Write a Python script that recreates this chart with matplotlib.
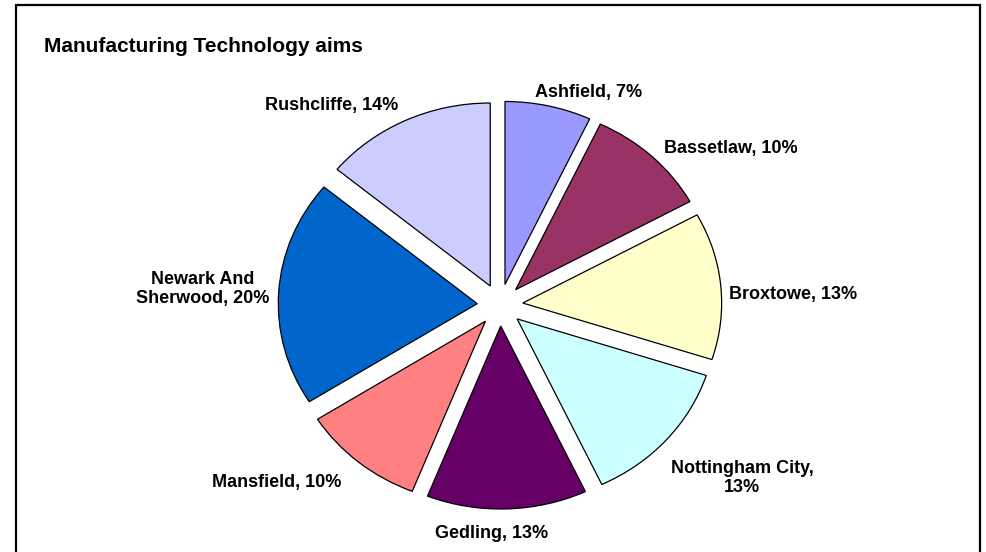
import numpy as np
import matplotlib
matplotlib.use("Agg")
import matplotlib.pyplot as plt
from matplotlib.patches import Rectangle

# data
areas = ["Ashfield", "Bassetlaw", "Broxtowe", "Nottingham City", "Gedling",
         "Mansfield", "Newark And Sherwood", "Rushcliffe"]
shares = [7, 10, 13, 13, 13, 10, 20, 14]
label_text = ["Ashfield, 7%", "Bassetlaw, 10%", "Broxtowe, 13%",
              "Nottingham City,\n13%", "Gedling, 13%", "Mansfield, 10%",
              "Newark And\nSherwood, 20%", "Rushcliffe, 14%"]
colours = ["#9999FF", "#993366", "#FFFFCC", "#CCFFFF", "#660066",
           "#FF8080", "#0066CC", "#CCCCFF"]

# layout: where Excel put each data label (pixel centre, from top-left)
label_pos = [(589, 93), (731, 149), (793, 295), (742, 478),
             (492, 534), (277, 483), (203, 289), (332, 105)]

plt.rcParams['font.family'] = ['Liberation Sans', 'DejaVu Sans']

W, H = 987, 552
fig = plt.figure(figsize=(W / 100, H / 100), dpi=100)
ax = fig.add_axes([0, 0, 1, 1])

# outer chart frame (bottom edge falls off the image)
fig.patches.append(Rectangle((16 / W, -0.05), (980 - 16) / W, (H - 5) / H + 0.05,
                             transform=fig.transFigure, fill=False,
                             edgecolor='black', linewidth=1.6))

cx, cy = 500, H - 305
radius = 183
wedges, texts = ax.pie(shares, labels=label_text, colors=colours,
                       explode=[21] * len(shares),  # explode is in data units
                       startangle=90, counterclock=False,
                       center=(cx, cy), radius=radius,
                       wedgeprops=dict(edgecolor='black', linewidth=0.9),
                       textprops=dict(fontsize=13, fontweight='bold',
                                      multialignment='center'))
# pie resets the limits; the original pie is a bit wider than tall
xstretch = 1.087
ax.set_xlim(cx - cx / xstretch, cx + (W - cx) / xstretch)
ax.set_ylim(0, H)
ax.set_aspect('auto')
ax.axis('off')

for t, (px, py) in zip(texts, label_pos):
    t.set_transform(fig.transFigure)
    t.set_position((px / W, 1 - py / H))
    t.set_ha('center')
    t.set_va('center')
    t.set_linespacing(1.1)

fig.text(44 / W, 1 - 47 / H, "Manufacturing Technology aims",
         fontsize=15, fontweight='bold', va='center', ha='left')

fig.savefig("out.png", dpi=100)
